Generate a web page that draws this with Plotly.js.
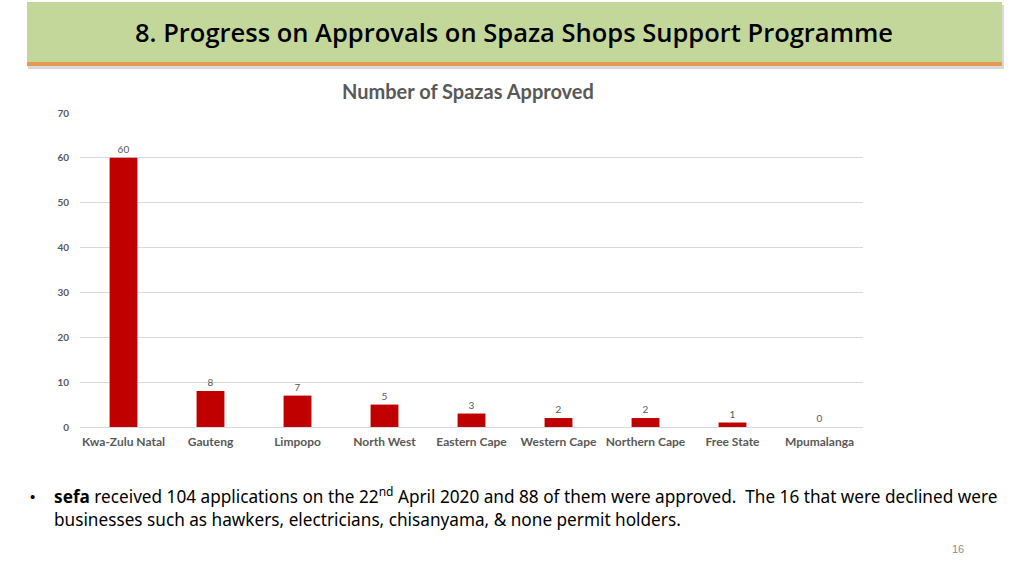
<!DOCTYPE html>
<html><head><meta charset="utf-8">
<script src="https://cdn.plot.ly/plotly-3.0.1.min.js"></script>
<style>html,body{margin:0;padding:0;background:#fff;}#chart{width:1024px;height:576px;}</style>
</head><body><div id="chart"></div>
<script>
const provinces = ["Kwa-Zulu Natal","Gauteng","Limpopo","North West","Eastern Cape","Western Cape","Northern Cape","Free State","Mpumalanga"];
const approved = [60, 8, 7, 5, 3, 2, 2, 1, 0];
const yTicks = [0, 10, 20, 30, 40, 50, 60, 70];

const trace = {
  type: "bar",
  x: provinces,
  y: approved,
  marker: {color: "#c00000"},
  text: approved.map(String),
  textposition: "outside",
  textfont: {family: "Lato, sans-serif", size: 10, color: "#595959"},
  cliponaxis: false,
  hoverinfo: "x+y"
};

function px(x){ return (x - 80) / 783; }
function py(y){ return (427 - y) / 314; }

const layout = {
  width: 1024, height: 576,
  margin: {l: 80, r: 161, t: 113, b: 149},
  paper_bgcolor: "#ffffff",
  plot_bgcolor: "#ffffff",
  showlegend: false,
  bargap: 0.68,
  xaxis: {
    type: "category",
    tickfont: {family: "Lato, sans-serif", size: 12, color: "#595959", weight: "bold"},
    showgrid: false, zeroline: false, showline: false, ticks: "",
    ticklabelstandoff: 6
  },
  yaxis: {
    range: [0, 70],
    tickvals: yTicks,
    tickfont: {family: "Lato, sans-serif", size: 10, color: "#595959", weight: "bold"},
    gridcolor: "#d9d9d9", gridwidth: 1,
    zeroline: true, zerolinecolor: "#d9d9d9", zerolinewidth: 1,
    showline: false, ticks: "",
    ticklabelstandoff: 10
  },
  font: {family: "Lato, sans-serif"},
  shapes: [
    {type: "rect", xref: "paper", yref: "paper", x0: px(28), x1: px(1004), y0: py(69), y1: py(5),
     fillcolor: "#d9d9d9", line: {width: 0}, layer: "below"},
    {type: "rect", xref: "paper", yref: "paper", x0: px(27), x1: px(1002), y0: py(62), y1: py(2),
     fillcolor: "#c4d79b", line: {width: 0}, layer: "below"},
    {type: "rect", xref: "paper", yref: "paper", x0: px(27), x1: px(1002), y0: py(66), y1: py(62),
     fillcolor: "#e49a52", line: {width: 0}, layer: "below"}
  ],
  annotations: [
    {xref: "paper", yref: "paper", x: px(514), y: py(32), xanchor: "center", yanchor: "middle",
     text: "8. Progress on Approvals on Spaza Shops Support Programme", showarrow: false,
     font: {family: "Open Sans, sans-serif", size: 25.5, color: "#000000", weight: 600}},
    {xref: "paper", yref: "paper", x: px(468), y: py(91), xanchor: "center", yanchor: "middle",
     text: "<b>Number of Spazas Approved</b>", showarrow: false,
     font: {family: "Lato, sans-serif", size: 20, color: "#595959"}},
    {xref: "paper", yref: "paper", x: px(28), y: py(496), xanchor: "left", yanchor: "middle",
     text: "•", showarrow: false,
     font: {family: "Liberation Sans, sans-serif", size: 15, color: "#000000"}},
    {xref: "paper", yref: "paper", x: px(52), y: py(507), xanchor: "left", yanchor: "middle", align: "left",
     text: "<b>sefa</b> received 104 applications on the 22<sup>nd</sup> April 2020 and 88 of them were approved.  The 16 that were declined were<br>businesses such as hawkers, electricians, chisanyama, &amp; none permit holders.",
     showarrow: false,
     font: {family: "Noto Sans, sans-serif", size: 17.2, color: "#000000"}},
    {xref: "paper", yref: "paper", x: px(958), y: py(549), xanchor: "center", yanchor: "middle",
     text: "16", showarrow: false,
     font: {family: "Liberation Sans, sans-serif", size: 11, color: "#8c8c8c"}}
  ]
};

Plotly.newPlot("chart", [trace], layout, {displayModeBar: false, staticPlot: true});
</script>
</body></html>
